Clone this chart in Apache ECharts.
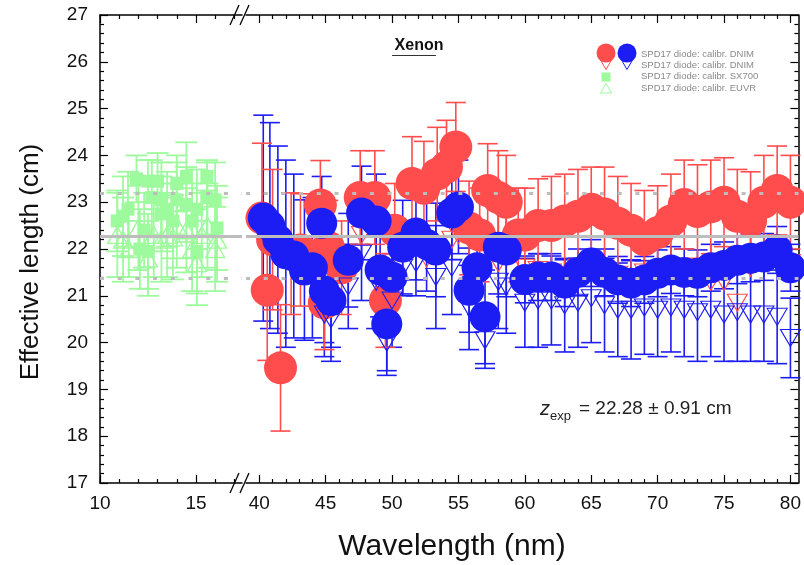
<!DOCTYPE html>
<html><head><meta charset="utf-8">
<script src="https://cdn.jsdelivr.net/npm/echarts@6/dist/echarts.min.js"></script>
<style>html,body{margin:0;padding:0;background:#fff}#c{width:804px;height:565px}</style>
</head><body><div id="c"></div>
<script>
// ---------- data ----------
const redCircX = [40.2,40.6,41.0,41.6,42.4,43.1,44.6,44.9,45.2,46.2,47.6,48.7,49.5,50.2,51.5,52.4,53.4,54.1,54.8,55.8,56.6,57.2,58.0,58.6,59.5,60,61,62,63,64,65,66,67,68,69,70,71,72,73,74,75,76,77,78,79,80];
const redCircY = [22.66,21.12,22.2,19.46,21.9,21.98,22.94,20.85,22.04,21.6,23.1,23.1,20.9,22.4,23.4,23.3,23.6,23.75,24.18,22.45,22.3,23.25,23.1,23.0,22.3,22.3,22.5,22.5,22.6,22.7,22.85,22.75,22.55,22.4,22.2,22.35,22.6,22.95,22.8,22.9,23.0,22.7,22.6,23.0,23.25,23.0];
const redCircErr = [1.6,1.5,1.5,1.35,1.3,1.2,0.95,1.0,1.0,1.0,1.0,1.0,1.0,1.0,1.0,1.0,1.0,1.0,0.95,1.0,1.0,1.0,1.0,1.0,1.0,1.0,1.0,1.05,1.0,1.0,0.9,1.0,1.0,1.0,1.05,1.0,1.0,0.95,1.0,1.0,0.95,1.0,1.05,1.0,0.95,1.0];

const blueCircX = [40.3,40.8,41.4,42.0,42.6,43.4,44.0,44.7,44.9,45.4,46.7,47.7,48.8,49.1,49.6,50.0,50.8,51.8,52.6,53.3,54.5,55.0,55.8,56.4,57.0,58.0,58.6,60,61,62,63,64,65,66,67,68,69,70,71,72,73,74,75,76,77,78,79,80];
const blueCircY = [22.66,22.5,22.2,21.9,21.85,21.55,21.6,22.55,21.1,20.9,21.76,22.77,22.6,21.55,20.4,21.4,22.04,22.34,22.1,21.98,22.77,22.9,21.12,21.6,20.55,22.04,21.98,21.35,21.4,21.4,21.27,21.5,21.7,21.5,21.34,21.27,21.34,21.48,21.55,21.5,21.48,21.6,21.65,21.76,21.8,21.83,21.98,21.6];
const blueCircErr = [2.2,2.2,2.0,2.0,1.75,1.5,1.5,1.0,1.1,1.0,1.0,1.0,1.0,1.0,1.0,1.0,1.0,1.0,1.0,1.0,1.0,1.0,0.9,1.0,1.0,1.0,1.0,0.5,0.5,0.5,0.5,0.5,0.5,0.5,0.5,0.5,0.5,0.5,0.5,0.5,0.5,0.5,0.5,0.5,0.5,0.5,0.5,0.5];

const blueTriX = [44.9,45.4,46.7,47.7,48.8,49.6,50.0,50.8,51.8,53.3,54.5,55.8,57.0,58.0,58.6,60,61,62,63,64,65,66,67,68,69,70,71,72,73,74,75,76,77,78,79,80];
const blueTriY = [20.6,20.5,21.2,21.9,21.3,20.0,20.9,21.6,21.7,21.4,21.6,20.75,20.05,21.3,21.2,20.85,20.9,20.9,20.8,20.85,20.95,20.8,20.7,20.7,20.75,20.7,20.75,20.7,20.65,20.7,20.6,20.65,20.6,20.6,20.55,20.1];
const blueTriErr = [0.9,0.9,0.9,1.0,1.0,0.7,1.0,0.6,0.7,1.1,1.0,0.9,0.6,1.0,1.0,0.95,1.0,0.95,1.0,0.95,0.95,1.0,1.0,1.05,1.0,1.0,0.95,1.0,1.05,1.0,1.0,1.05,1.0,1.0,1.0,0.85];

const redTriX = [47.7,50.8,52.6,54.5,55.0,58.0,60,61,62,63,64,65,66,67,68,69,70,71,72,73,74,75,76,77,78,79,80];
const redTriY = [22.3,21.9,21.8,22.2,22.3,21.7,21.6,21.55,21.5,21.45,21.6,21.7,21.55,21.45,21.4,21.5,21.55,21.6,21.5,21.55,21.3,21.3,20.85,21.6,21.7,21.8,21.7];

const sqX = [10.9,11.2,11.46,11.9,12.08,12.3,12.5,12.5,12.7,13.0,13.2,13.2,13.5,13.8,14.0,14.0,14.5,14.5,14.8,15.05,15.05,15.57,15.57,16.0,16.1];
const sqY = [22.6,22.7,22.85,23.5,22.0,22.4,23.45,21.95,23.1,23.45,23.05,22.75,22.85,22.6,23.4,23.05,23.55,22.95,22.6,22.85,21.95,23.55,23.1,23.05,22.45];
const sqErr = [0.65,0.85,0.8,0.5,0.85,0.8,0.45,0.8,0.8,0.6,0.8,0.8,0.8,0.8,0.6,0.8,0.73,0.8,0.8,0.85,0.9,0.3,0.8,0.8,0.9];

const gtX = [10.9,11.2,11.5,12.0,12.5,12.8,13.2,13.5,13.8,14.0,14.5,14.8,15.05,15.3,15.6,16.0,16.1];
const gtY = [22.3,22.2,22.0,22.45,21.8,22.3,22.2,22.3,22.25,22.5,22.4,22.0,21.7,22.3,22.5,22.0,22.2];
const gtErr = [0.9,0.9,0.6,0.9,0.8,0.9,0.9,0.9,0.9,0.9,0.9,0.9,0.9,0.9,0.9,0.9,0.9];

const zExp = 22.28, zErr = 0.91;
const leftMajor = [10,15], leftMinor = [11,12,13,14,16,17];
const rightMajor = [40,45,50,55,60,65,70,75,80];
const rightMinor = [41,42,43,44,46,47,48,49,51,52,53,54,56,57,58,59,61,62,63,64,66,67,68,69,71,72,73,74,76,77,78,79];
const legendTexts = ['SPD17 diode: calibr. DNIM','SPD17 diode: calibr. DNIM','SPD17 diode: calibr. SX700','SPD17 diode: calibr. EUVR'];

// ---------- style ----------
const RED = '#ff4d4d', BLUE = '#1c1cf5', GREEN = '#9dfa9d', GRAY = '#bdbdbd';
const FONT = 'Liberation Sans';

function pts(xs, ys) { return xs.map((x, i) => [x, ys[i]]); }
function errs(xs, ys, es) { return xs.map((x, i) => [x, ys[i] - es[i], ys[i] + es[i]]); }
function errRender(color, half, lw) {
  return function (params, api) {
    const x = api.value(0), lo = api.value(1), hi = api.value(2);
    const a = api.coord([x, hi]), b = api.coord([x, lo]);
    const st = { stroke: color, lineWidth: lw, fill: null };
    return { type: 'group', children: [
      { type: 'line', shape: { x1: a[0], y1: a[1], x2: b[0], y2: b[1] }, style: st },
      { type: 'line', shape: { x1: a[0] - half, y1: a[1], x2: a[0] + half, y2: a[1] }, style: st },
      { type: 'line', shape: { x1: b[0] - half, y1: b[1], x2: b[0] + half, y2: b[1] }, style: st }
    ]};
  };
}
function xAx(grid, min, max, pos, ticks, len, labels) {
  return {
    type: 'value', gridIndex: grid, min: min, max: max, position: pos,
    axisLine: { show: len > 5, lineStyle: { color: '#000', width: 1.5 } },
    axisTick: { show: true, inside: true, length: len, customValues: ticks, lineStyle: { color: '#000', width: 1.2 } },
    axisLabel: labels ? { show: true, customValues: ticks, fontFamily: FONT, fontSize: 19, color: '#111', margin: 11 } : { show: false },
    splitLine: { show: false }
  };
}
function yAx(grid, pos, labels) {
  return {
    type: 'value', gridIndex: grid, min: 17, max: 27, interval: 1, position: pos,
    axisLine: { show: true, lineStyle: { color: '#000', width: 1.5 } },
    axisTick: { show: true, inside: true, length: 8, lineStyle: { color: '#000', width: 1.2 } },
    minorTick: { show: true, splitNumber: 5, length: 4, lineStyle: { color: '#000', width: 1.2 } },
    axisLabel: labels ? { show: true, fontFamily: FONT, fontSize: 19, color: '#111', margin: 12 } : { show: false },
    splitLine: { show: false }, minorSplitLine: { show: false }
  };
}
const refLines = {
  silent: true, symbol: 'none', label: { show: false }, animation: false,
  data: [
    { yAxis: zExp, lineStyle: { color: GRAY, width: 3, type: 'solid', opacity: 1 } },
    { yAxis: +(zExp + zErr).toFixed(2), lineStyle: { color: GRAY, width: 3, type: [4, 13.7], opacity: 1 } },
    { yAxis: +(zExp - zErr).toFixed(2), lineStyle: { color: GRAY, width: 3, type: [4, 13.7], opacity: 1 } }
  ]
};
function scat(name, xi, yi, symbol, size, style, data, extra) {
  return Object.assign({ type: 'scatter', name: name, xAxisIndex: xi, yAxisIndex: yi, symbol: symbol, symbolSize: size,
    itemStyle: Object.assign({ opacity: 1 }, style), data: data, silent: true }, extra || {});
}
function errSeries(xi, yi, color, data, half, lw) {
  return { type: 'custom', xAxisIndex: xi, yAxisIndex: yi, renderItem: errRender(color, half || 10, lw || 1.6), data: data, silent: true };
}
const HOLLOW = 'rgba(255,255,255,0)';

const chart = echarts.init(document.getElementById('c'), null, { renderer: 'canvas' });
const option = {
  animation: false,
  backgroundColor: '#fff',
  grid: [
    { left: 100, top: 15, width: 142, height: 468 },
    { left: 246, top: 15, width: 555, height: 468 }
  ],
  xAxis: [
    xAx(0, 10, 17.4, 'bottom', leftMajor, 8, true),
    xAx(0, 10, 17.4, 'bottom', leftMinor, 4, false),
    xAx(0, 10, 17.4, 'top', leftMajor, 8, false),
    xAx(0, 10, 17.4, 'top', leftMinor, 4, false),
    xAx(1, 39, 80.6, 'bottom', rightMajor, 8, true),
    xAx(1, 39, 80.6, 'bottom', rightMinor, 4, false),
    xAx(1, 39, 80.6, 'top', rightMajor, 8, false),
    xAx(1, 39, 80.6, 'top', rightMinor, 4, false)
  ],
  yAxis: [ yAx(0, 'left', true), yAx(1, 'right', false) ],
  series: [
    // left segment: green
    errSeries(0, 0, GREEN, errs(gtX, gtY, gtErr), 11, 1.8),
    errSeries(0, 0, GREEN, errs(sqX, sqY, sqErr), 11, 1.8),
    scat('EUVR', 0, 0, 'triangle', [19, 17], { color: HOLLOW, borderColor: GREEN, borderWidth: 1.4 }, pts(gtX, gtY)),
    scat('SX700', 0, 0, 'rect', 13, { color: GREEN }, pts(sqX, sqY), { markLine: refLines }),
    // right segment
    scat('DNIM red', 4, 1, 'circle', 33, { color: RED }, pts(redCircX, redCircY), { markLine: refLines }),
    scat('DNIM red tri', 4, 1, 'triangle', [20, 17], { color: HOLLOW, borderColor: RED, borderWidth: 1.1 }, pts(redTriX, redTriY), { symbolRotate: 180 }),
    scat('DNIM blue', 4, 1, 'circle', 31, { color: BLUE }, pts(blueCircX, blueCircY)),
    errSeries(4, 1, BLUE, errs(blueCircX, blueCircY, blueCircErr)),
    errSeries(4, 1, BLUE, errs(blueTriX, blueTriY, blueTriErr)),
    scat('DNIM blue tri', 4, 1, 'triangle', [20, 17], { color: HOLLOW, borderColor: BLUE, borderWidth: 1.1 }, pts(blueTriX, blueTriY), { symbolRotate: 180 }),
    errSeries(4, 1, RED, errs(redCircX, redCircY, redCircErr))
  ],
  graphic: [
    // axis break marks
    { type: 'line', shape: { x1: 230, y1: 25, x2: 239, y2: 5 }, style: { stroke: '#000', lineWidth: 1.3 }, z: 100 },
    { type: 'line', shape: { x1: 240, y1: 25, x2: 249, y2: 5 }, style: { stroke: '#000', lineWidth: 1.3 }, z: 100 },
    { type: 'line', shape: { x1: 230, y1: 493, x2: 239, y2: 473 }, style: { stroke: '#000', lineWidth: 1.3 }, z: 100 },
    { type: 'line', shape: { x1: 240, y1: 493, x2: 249, y2: 473 }, style: { stroke: '#000', lineWidth: 1.3 }, z: 100 },
    // title
    { type: 'text', x: 419, y: 46, z: 100, style: { text: 'Xenon', font: 'bold 16px "Liberation Sans"', fill: '#111', align: 'center', verticalAlign: 'middle' } },
    { type: 'line', shape: { x1: 392, y1: 55.5, x2: 436, y2: 55.5 }, style: { stroke: '#333', lineWidth: 1 }, z: 100 },
    // legend
    { type: 'circle', shape: { cx: 606, cy: 53, r: 9.5 }, style: { fill: RED }, z: 100 },
    { type: 'circle', shape: { cx: 627, cy: 53, r: 9.5 }, style: { fill: BLUE }, z: 100 },
    { type: 'polygon', shape: { points: [[600.5, 60], [611.5, 60], [606, 69.5]] }, style: { fill: null, stroke: RED, lineWidth: 1 }, z: 100 },
    { type: 'polygon', shape: { points: [[621.5, 60], [632.5, 60], [627, 69.5]] }, style: { fill: null, stroke: BLUE, lineWidth: 1 }, z: 100 },
    { type: 'rect', shape: { x: 601.5, y: 72.5, width: 9, height: 9 }, style: { fill: GREEN }, z: 100 },
    { type: 'polygon', shape: { points: [[600.5, 93], [611.5, 93], [606, 83.5]] }, style: { fill: null, stroke: GREEN, lineWidth: 1 }, z: 100 },
    ...legendTexts.map((t, i) => ({ type: 'text', x: 641, y: [54, 65, 76.5, 88][i], z: 100,
      style: { text: t, font: '9.5px "Liberation Sans"', fill: '#8a8a8a', verticalAlign: 'middle' } })),
    // annotation
    { type: 'text', x: 540, y: 409, z: 100, style: { text: 'z', font: 'italic 20px "Liberation Sans"', fill: '#222', verticalAlign: 'middle' } },
    { type: 'text', x: 550, y: 416, z: 100, style: { text: 'exp', font: '13px "Liberation Sans"', fill: '#222', verticalAlign: 'middle' } },
    { type: 'text', x: 579, y: 409, z: 100, style: { text: '= ' + zExp.toFixed(2) + ' \u00b1 ' + zErr.toFixed(2) + ' cm', font: '19px "Liberation Sans"', fill: '#222', verticalAlign: 'middle' } },
    // axis titles
    { type: 'text', x: 452, y: 547, z: 100, style: { text: 'Wavelength (nm)', font: '30px "Liberation Sans"', fill: '#111', align: 'center', verticalAlign: 'middle' } },
    { type: 'text', x: 31, y: 262, rotation: Math.PI / 2, z: 100, style: { text: 'Effective length (cm)', font: '26px "Liberation Sans"', fill: '#111', align: 'center', verticalAlign: 'middle' } }
  ]
};
chart.setOption(option);
</script></body></html>
